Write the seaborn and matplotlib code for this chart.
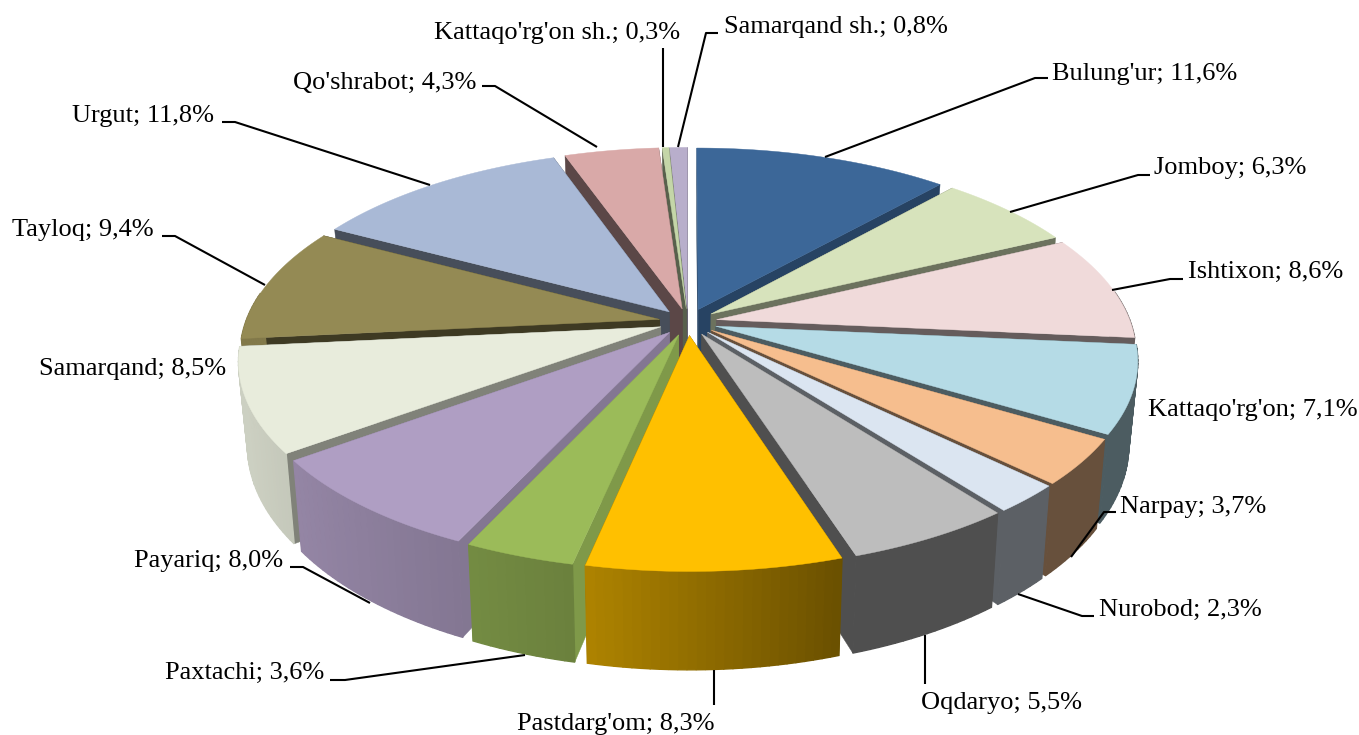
import matplotlib
matplotlib.use('Agg')
import matplotlib.pyplot as plt
import numpy as np
import seaborn as sns

sns.set_theme(style='white')
plt.rcParams['font.family'] = ['Liberation Serif', 'DejaVu Serif']

names = ["Bulung'ur", "Jomboy", "Ishtixon", "Kattaqo'rg'on", "Narpay", "Nurobod", "Oqdaryo",
         "Pastdarg'om", "Paxtachi", "Payariq", "Samarqand", "Tayloq", "Urgut", "Qo'shrabot",
         "Kattaqo'rg'on sh.", "Samarqand sh."]
shares = [11.6, 6.3, 8.6, 7.1, 3.7, 2.3, 5.5, 8.3, 3.6, 8.0, 8.5, 9.4, 11.8, 4.3, 0.3, 0.8]
top_colors = ['#3C6798', '#D7E3BC', '#F0DADA', '#B5DBE6', '#F6BE8E', '#DBE5F1', '#BDBDBD', '#FFC000',
              '#9BBB59', '#AF9EC3', '#E8ECDC', '#948A54', '#A9B9D6', '#D9A9A8', '#C4D6A8', '#B8AECB']
wall_shades = [0.65, 0.5, 0.42, 0.42, 0.42, 0.42, 0.42, 0.42, 0.82, 0.75, 0.55, 0.42, 0.42, 0.42, 0.45, 0.5]

# left edge x, middle y of each label (pixels)
label_pos = [(1052, 74), (1154, 168), (1188, 272), (1148, 410), (1120, 507), (1099, 610), (921, 703),
             (517, 724), (165, 673), (134, 561), (39, 369), (12, 230), (72, 116), (293, 83),
             (434, 33), (724, 27)]
leaders = [[(1048, 78), (1035, 78), (825, 157)], [(1150, 175), (1138, 175), (1010, 212)],
           [(1183, 279), (1170, 279), (1112, 290)], None,
           [(1116, 512), (1104, 512), (1071, 557)], [(1094, 616), (1082, 616), (1018, 594)],
           [(925, 684), (925, 635)], [(714, 705), (714, 670)],
           [(330, 680), (345, 680), (525, 655)], [(290, 567), (303, 567), (370, 603)], None,
           [(162, 236), (175, 236), (265, 285)], [(222, 122), (235, 122), (430, 185)],
           [(482, 86), (495, 86), (597, 147)], [(663, 48), (663, 147)],
           [(718, 33), (706, 33), (678, 147)]]

# projection of the tilted disc
cx, cy = 688, 322
rx, ry = 414, 192
persp = 0.165
depth = 81
explode = 0.07
base_shrink = 0.98


def project(x, y, level=0.0):
    f = 1 / (1 + persp * y)
    sx = rx * x * f * (1 - (1 - base_shrink) * level)
    sy = ry * y * f - depth * f * level
    return cx + sx, cy - sy


def darker(color, k):
    return tuple(c * k for c in matplotlib.colors.to_rgb(color))


fig, ax = plt.subplots(figsize=(13.59, 7.35), dpi=100)
fig.subplots_adjust(0, 0, 1, 1)
ax.set_xlim(0, 1359)
ax.set_ylim(735, 0)
ax.axis('off')

palette = sns.color_palette(top_colors)
edges = np.cumsum([0] + shares) / sum(shares) * 2 * np.pi
mids = (edges[:-1] + edges[1:]) / 2
order = np.argsort(-np.cos(mids))

z = 2
for i in order:
    dx, dy = explode * np.sin(mids[i]), explode * np.cos(mids[i])
    t = np.linspace(edges[i], edges[i + 1], max(int(np.degrees(edges[i + 1] - edges[i])), 3))
    xs, ys = np.sin(t) + dx, np.cos(t) + dy

    # radial walls
    for ex, ey in [(xs[0], ys[0]), (xs[-1], ys[-1])]:
        a = project(dx, dy)
        b = project(ex, ey)
        c = project(ex, ey, 1)
        d = project(dx, dy, 1)
        ax.fill(*zip(a, b, c, d), color=darker(palette[i], wall_shades[i]), lw=0.3, zorder=z)
    z += 1

    # outer wall, shaded left to right
    for j in range(len(t) - 1):
        p = [project(xs[j], ys[j]), project(xs[j + 1], ys[j + 1]),
             project(xs[j + 1], ys[j + 1], 1), project(xs[j], ys[j], 1)]
        k = np.interp((xs[j] + xs[j + 1]) / 2, [-1, -0.5, -0.2, 0.3, 1], [0.88, 0.76, 0.68, 0.42, 0.42])
        if ys[j] < 0.15 or ys[j + 1] < 0.15:
            ax.fill(*zip(*p), color=darker(palette[i], k), lw=1.0, zorder=z)
    z += 1

    # top face
    top = [project(dx, dy)] + [project(a, b) for a, b in zip(xs, ys)]
    ax.fill(*zip(*top), color=palette[i], lw=0.3, zorder=z)
    z += 1

for name, val, (lx, ly), line in zip(names, shares, label_pos, leaders):
    label = f"{name}; " + f"{val:.1f}%".replace('.', ',')
    ax.text(lx, ly, label, fontsize=19, color='black', ha='left', va='center', zorder=z + 2)
    if line:
        ax.plot(*zip(*line), color='black', lw=1.5, zorder=z + 1, solid_capstyle='butt')

fig.savefig('out.png', dpi=100)
